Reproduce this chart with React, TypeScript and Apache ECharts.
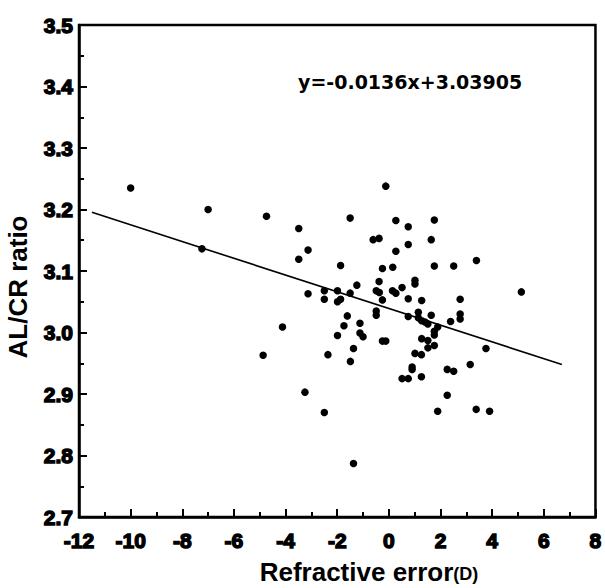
import React, { useEffect, useRef } from "react";
import * as echarts from "echarts";

const refractiveError = [
  -10.0, -7.0, -7.24, -4.74, -3.49, -3.13, -3.49, -3.13, -2.5, -2.5, -4.12,
  -0.12, -1.5, 0.27, 0.75, 1.76, -0.61, -0.38, 0.75, 0.27, 1.64, 3.39, -1.87,
  -0.25, 0.15, 1.76, 2.51, 5.13, -0.38, 1.01, 1.01, -1.24, 0.51, -1.99, -1.5,
  -1.99, -1.87, -0.49, -0.37, 0.14, 0.27, -0.25, 0.75, 1.27, 2.76, -0.49,
  -0.49, -1.61, 1.14, 0.75, 1.64, 2.76, 2.76, 1.14, 1.27, 1.4, 1.51, 2.39,
  1.89, 1.76, 1.76, -1.12, -1.74, -1.99, -1.12, -1.0, -0.25, -0.12, 1.27, 1.51,
  1.76, 1.51, -1.37, 3.76, -4.87, -2.36, -1.49, 1.01, 1.26, 0.9, 0.9, 0.51,
  0.75, 1.26, 2.26, 2.51, 3.15, 2.26, 1.89, 3.38, -3.25, -2.5, -1.37, 3.9,
];
const alcrRatio = [
  3.235, 3.2, 3.136, 3.189, 3.169, 3.134, 3.119, 3.063, 3.068, 3.054, 3.009,
  3.238, 3.186, 3.182, 3.172, 3.183, 3.151, 3.153, 3.143, 3.132, 3.151, 3.117,
  3.109, 3.104, 3.106, 3.108, 3.108, 3.066, 3.083, 3.085, 3.079, 3.077, 3.073,
  3.068, 3.064, 3.05, 3.054, 3.068, 3.065, 3.068, 3.064, 3.053, 3.055, 3.052,
  3.054, 3.035, 3.028, 3.027, 3.033, 3.026, 3.028, 3.03, 3.022, 3.024, 3.019,
  3.017, 3.014, 3.018, 3.009, 3.002, 2.996, 3.015, 3.011, 2.995, 2.999, 2.993,
  2.986, 2.986, 2.99, 2.987, 2.979, 2.975, 2.974, 2.974, 2.963, 2.964, 2.953,
  2.966, 2.964, 2.944, 2.94, 2.925, 2.925, 2.928, 2.94, 2.937, 2.948, 2.898,
  2.872, 2.875, 2.903, 2.87, 2.787, 2.872,
];

const fitSlope = -0.0136;
const fitIntercept = 3.03905;
const fitRange = [-11.5, 6.7];
const equationText = "y=-0.0136x+3.03905";

const xTicks = { min: -12, max: 8, interval: 2 };
const yTicks = { min: 2.7, max: 3.5, interval: 0.1 };

const FAMILY = "'Liberation Sans', Arial, sans-serif";

export default function App() {
  const ref = useRef<HTMLDivElement>(null);
  useEffect(() => {
    if (!ref.current) return;
    const chart = echarts.init(ref.current, undefined, { renderer: "svg" });
    const points = refractiveError.map((x, i) => [x, alcrRatio[i]]);
    const fitLine = fitRange.map((x) => [x, fitSlope * x + fitIntercept]);
    const tickLabel = {
      color: "#000",
      fontWeight: "bold",
      fontSize: 21,
      fontFamily: "Liberation Sans",
      textBorderColor: "#000",
      textBorderWidth: 1.4,
    };
    chart.setOption({
      animation: false,
      backgroundColor: "#fff",
      grid: {
        left: 79,
        right: 8,
        top: 25,
        bottom: 71,
        show: true,
        borderColor: "#000",
        borderWidth: 2.5,
        containLabel: false,
      },
      xAxis: {
        type: "value",
        min: xTicks.min,
        max: xTicks.max,
        interval: xTicks.interval,
        axisLine: { show: true, onZero: false, lineStyle: { color: "#000", width: 2.5 } },
        axisTick: { show: true, inside: true, length: 8, lineStyle: { color: "#000", width: 2 } },
        minorTick: { show: true, splitNumber: 2, length: 5, lineStyle: { color: "#000", width: 2 } },
        splitLine: { show: false },
        axisLabel: { ...tickLabel, margin: 13 },
      },
      yAxis: {
        type: "value",
        min: yTicks.min,
        max: yTicks.max,
        interval: yTicks.interval,
        axisLine: { show: true, onZero: false, lineStyle: { color: "#000", width: 2.5 } },
        axisTick: { show: true, inside: true, length: 8, lineStyle: { color: "#000", width: 2 } },
        minorTick: { show: true, splitNumber: 2, length: 5, lineStyle: { color: "#000", width: 2 } },
        splitLine: { show: false },
        axisLabel: { ...tickLabel, margin: 6, formatter: (v: number) => v.toFixed(1) },
      },
      series: [
        {
          type: "scatter",
          data: points,
          symbol: "circle",
          symbolSize: 7.5,
          itemStyle: { color: "#000", opacity: 1 },
          z: 3,
        },
        {
          type: "line",
          data: fitLine,
          symbol: "none",
          lineStyle: { color: "#000", width: 1.6 },
          z: 2,
        },
      ],
      graphic: [
        {
          type: "text",
          x: 298,
          y: 82,
          style: {
            text: equationText,
            fill: "#000",
            font: "bold 19px 'DejaVu Sans', sans-serif",
            align: "left",
            verticalAlign: "middle",
          },
        },
        {
          type: "text",
          x: 18,
          y: 287,
          rotation: Math.PI / 2,
          style: {
            text: "AL/CR ratio",
            fill: "#000",
            font: "bold 26px 'Liberation Sans', Arial, sans-serif",
            align: "center",
            verticalAlign: "middle",
          },
        },
        {
          type: "text",
          x: 369,
          y: 572,
          style: {
            text: "{a|Refractive error}{b|(D)}",
            align: "center",
            verticalAlign: "middle",
            rich: {
              a: {
                fill: "#000",
                fontSize: 26,
                fontWeight: "bold",
                fontFamily: FAMILY,
              },
              b: {
                fill: "#000",
                fontSize: 18,
                fontWeight: "bold",
                fontFamily: FAMILY,
                padding: [4, 0, 0, 0],
              },
            },
          },
        },
      ],
    });
    return () => chart.dispose();
  }, []);
  return (
    <div
      ref={ref}
      style={{ position: "fixed", left: 0, top: 0, width: 605, height: 588, background: "#fff" }}
    />
  );
}
